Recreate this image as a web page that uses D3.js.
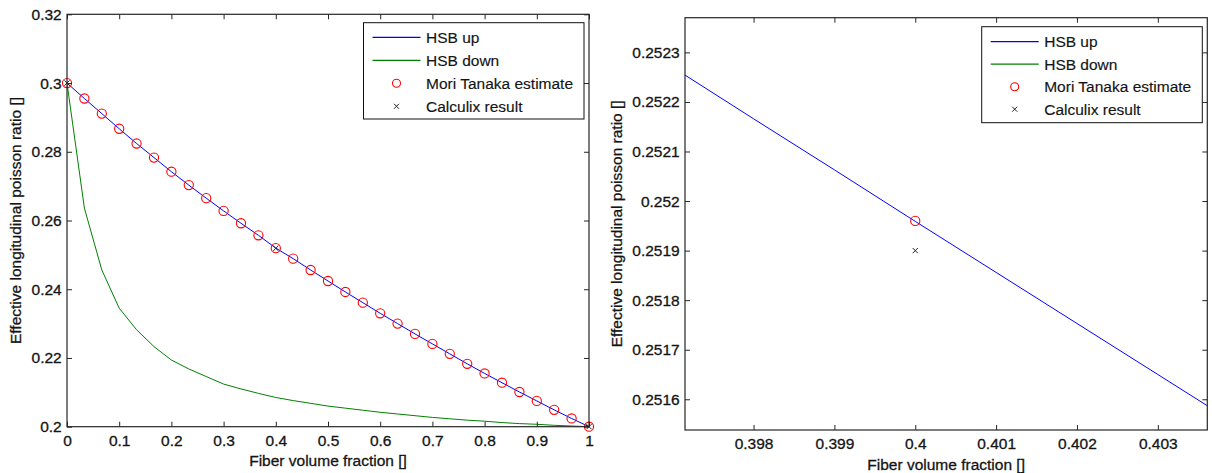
<!DOCTYPE html>
<html>
<head>
<meta charset="utf-8">
<script src="https://cdn.jsdelivr.net/npm/d3@7"></script>
<style>
  body { margin: 0; background: #fff; }
  text { font-family: "Liberation Sans", Arial, sans-serif; fill: #141414; stroke: #141414; stroke-width: 0.3px; }
</style>
</head>
<body>
<svg id="fig" width="1212" height="473"></svg>
<script>
// Fibre volume fraction samples
const volumeFraction = [0, 0.0333, 0.0667, 0.1, 0.1333, 0.1667, 0.2, 0.2333, 0.2667, 0.3,
  0.3333, 0.3667, 0.4, 0.4333, 0.4667, 0.5, 0.5333, 0.5667, 0.6, 0.6333, 0.6667,
  0.7, 0.7333, 0.7667, 0.8, 0.8333, 0.8667, 0.9, 0.9333, 0.9667, 1];

// Hashin-Shtrikman bounds on the longitudinal Poisson ratio
const hsbUp = [0.3000, 0.2955, 0.2911, 0.2867, 0.2824, 0.2783, 0.2742, 0.2703, 0.2665, 0.2628,
  0.2592, 0.2557, 0.25196, 0.2489, 0.2456, 0.2424, 0.2392, 0.2361, 0.2330, 0.2300, 0.2270,
  0.2241, 0.2212, 0.2183, 0.2155, 0.2128, 0.2101, 0.2075, 0.2049, 0.2024, 0.2000];
const hsbDown = [0.3000, 0.2636, 0.2456, 0.2345, 0.2282, 0.2233, 0.2194, 0.2168, 0.2146, 0.2124,
  0.2110, 0.2097, 0.2085, 0.2076, 0.2068, 0.2060, 0.2054, 0.2048, 0.2042, 0.2037, 0.2032,
  0.2027, 0.2023, 0.2019, 0.2016, 0.2012, 0.2009, 0.2007, 0.2004, 0.2002, 0.2000];

// Mori-Tanaka estimate at the same fractions
const moriTanaka = [0.3000, 0.2955, 0.2911, 0.2867, 0.2824, 0.2783, 0.2742, 0.2703, 0.2665, 0.2628,
  0.2592, 0.2557, 0.25196, 0.2489, 0.2456, 0.2424, 0.2392, 0.2361, 0.2330, 0.2300, 0.2270,
  0.2241, 0.2212, 0.2183, 0.2155, 0.2128, 0.2101, 0.2075, 0.2049, 0.2024, 0.2000];

// Finite element (Calculix) results
const calculixFraction = [0, 0.4, 1];
const calculixValue = [0.3000, 0.2519, 0.2000];

// Upper bound, finely sampled around 0.4
const zoomFraction = [0.397, 0.398, 0.399, 0.400, 0.401, 0.402, 0.403, 0.404];
const zoomHsbUp = [0.252270, 0.252166, 0.252063, 0.251959, 0.251856, 0.251753, 0.251650, 0.251547];
const zoomHsbDown = [0.20835, 0.20834, 0.20833, 0.20832, 0.20831, 0.20830, 0.20829, 0.20828];

// Tick values and labels
const leftXTicks = [0, 0.1, 0.2, 0.3, 0.4, 0.5, 0.6, 0.7, 0.8, 0.9, 1];
const leftXLabels = ["0", "0.1", "0.2", "0.3", "0.4", "0.5", "0.6", "0.7", "0.8", "0.9", "1"];
const leftYTicks = [0.2, 0.22, 0.24, 0.26, 0.28, 0.3, 0.32];
const leftYLabels = ["0.2", "0.22", "0.24", "0.26", "0.28", "0.3", "0.32"];
const rightXTicks = [0.398, 0.399, 0.4, 0.401, 0.402, 0.403];
const rightXLabels = ["0.398", "0.399", "0.4", "0.401", "0.402", "0.403"];
const rightYTicks = [0.2516, 0.2517, 0.2518, 0.2519, 0.2520, 0.2521, 0.2522, 0.2523];
const rightYLabels = ["0.2516", "0.2517", "0.2518", "0.2519", "0.252", "0.2521", "0.2522", "0.2523"];

const legendLabels = ["HSB up", "HSB down", "Mori Tanaka estimate", "Calculix result"];

const BLUE = "#0000ff", GREEN = "#008000", RED = "#ff0000", FRAME = "#262626";
const FONT = 15.5;

const svg = d3.select("#fig");

function panel(cfg) {
  const x = d3.scaleLinear().domain(cfg.xDomain).range([cfg.left, cfg.right]);
  const y = d3.scaleLinear().domain(cfg.yDomain).range([cfg.bottom, cfg.top]);
  const g = svg.append("g");

  const clipId = "clip-" + cfg.id;
  g.append("clipPath").attr("id", clipId).append("rect")
    .attr("x", cfg.left).attr("y", cfg.top)
    .attr("width", cfg.right - cfg.left).attr("height", cfg.bottom - cfg.top);

  const plot = g.append("g").attr("clip-path", `url(#${clipId})`);
  const line = d3.line().x(d => x(d[0])).y(d => y(d[1]));

  plot.append("path").datum(d3.zip(cfg.fx, cfg.down))
    .attr("d", line).attr("fill", "none").attr("stroke", GREEN).attr("stroke-width", 1);
  plot.append("path").datum(d3.zip(cfg.fx, cfg.up))
    .attr("d", line).attr("fill", "none").attr("stroke", BLUE).attr("stroke-width", 1);

  // markers may overhang the frame slightly
  const marks = g.append("g");
  marks.selectAll("circle.mt").data(d3.zip(volumeFraction, moriTanaka)
      .filter(d => d[0] >= cfg.xDomain[0] && d[0] <= cfg.xDomain[1]))
    .join("circle").attr("class", "mt")
    .attr("cx", d => x(d[0])).attr("cy", d => y(d[1])).attr("r", 4.6)
    .attr("fill", "none").attr("stroke", RED).attr("stroke-width", 1.1);
  const cs = 2.6;
  marks.selectAll("path.cx").data(d3.zip(calculixFraction, calculixValue)
      .filter(d => d[0] >= cfg.xDomain[0] && d[0] <= cfg.xDomain[1]))
    .join("path").attr("class", "cx")
    .attr("d", d => {
      const px = x(d[0]), py = y(d[1]);
      return `M${px - cs},${py - cs}L${px + cs},${py + cs}M${px - cs},${py + cs}L${px + cs},${py - cs}`;
    })
    .attr("stroke", "#222").attr("stroke-width", 1).attr("fill", "none");

  // axes with inward ticks on all four sides
  const styleAxis = sel => {
    sel.select(".domain").remove();
    sel.selectAll(".tick line").attr("stroke", FRAME).attr("stroke-width", 1);
    sel.selectAll(".tick text").style("font-size", FONT + "px").attr("fill", null);
  };
  g.append("g").attr("transform", `translate(0,${cfg.bottom})`)
    .call(d3.axisBottom(x).tickValues(cfg.xTicks).tickFormat((d, i) => cfg.xLabels[i])
      .tickSizeInner(-5).tickSizeOuter(0).tickPadding(8.3))
    .call(styleAxis);
  g.append("g").attr("transform", `translate(0,${cfg.top})`)
    .call(d3.axisTop(x).tickValues(cfg.xTicks).tickFormat("").tickSizeInner(-5).tickSizeOuter(0))
    .call(styleAxis);
  g.append("g").attr("transform", `translate(${cfg.left},0)`)
    .call(d3.axisLeft(y).tickValues(cfg.yTicks).tickFormat((d, i) => cfg.yLabels[i])
      .tickSizeInner(-5).tickSizeOuter(0).tickPadding(5.3))
    .call(styleAxis);
  g.append("g").attr("transform", `translate(${cfg.right},0)`)
    .call(d3.axisRight(y).tickValues(cfg.yTicks).tickFormat("").tickSizeInner(-5).tickSizeOuter(0))
    .call(styleAxis);
  g.selectAll("g[font-family]").attr("font-family", null).attr("font-size", null);

  g.append("rect")
    .attr("x", cfg.left).attr("y", cfg.top)
    .attr("width", cfg.right - cfg.left).attr("height", cfg.bottom - cfg.top)
    .attr("fill", "none").attr("stroke", FRAME).attr("stroke-width", 1.2);

  // axis titles
  g.append("text")
    .attr("x", (cfg.left + cfg.right) / 2).attr("y", cfg.bottom + 39.5)
    .attr("text-anchor", "middle").style("font-size", FONT + "px")
    .text("Fiber volume fraction []");
  g.append("text")
    .attr("transform", `translate(${cfg.yTitleX},${(cfg.top + cfg.bottom) / 2}) rotate(-90)`)
    .attr("text-anchor", "middle").style("font-size", FONT + "px")
    .text("Effective longitudinal poisson ratio []");

  // legend
  const L = cfg.legend;
  const lg = g.append("g");
  lg.append("rect").attr("x", L.x).attr("y", L.y).attr("width", L.w).attr("height", L.h)
    .attr("fill", "#fff").attr("stroke", "#111").attr("stroke-width", 1);
  legendLabels.forEach((lab, i) => {
    const ry = L.y + L.row0 + i * L.step;
    const sx0 = L.x + 9, sx1 = L.x + 57, mx = (sx0 + sx1) / 2;
    if (i === 0 || i === 1) {
      lg.append("line").attr("x1", sx0).attr("x2", sx1).attr("y1", ry).attr("y2", ry)
        .attr("stroke", i === 0 ? BLUE : GREEN).attr("stroke-width", 1.3);
    } else if (i === 2) {
      lg.append("circle").attr("cx", mx).attr("cy", ry).attr("r", 4)
        .attr("fill", "none").attr("stroke", RED).attr("stroke-width", 1.1);
    } else {
      lg.append("path")
        .attr("d", `M${mx - 2.5},${ry - 2.5}L${mx + 2.5},${ry + 2.5}M${mx - 2.5},${ry + 2.5}L${mx + 2.5},${ry - 2.5}`)
        .attr("stroke", "#222").attr("stroke-width", 1);
    }
    lg.append("text").attr("x", L.x + 62.5).attr("y", ry).attr("dy", "0.36em")
      .style("font-size", FONT + "px").style("stroke-width", "0.15px").text(lab);
  });
}

panel({
  id: "full",
  left: 67, right: 589, top: 14.3, bottom: 426.7,
  xDomain: [0, 1], yDomain: [0.2, 0.32],
  fx: volumeFraction, up: hsbUp, down: hsbDown,
  xTicks: leftXTicks, xLabels: leftXLabels, yTicks: leftYTicks, yLabels: leftYLabels,
  yTitleX: 21,
  legend: { x: 363.5, y: 22.7, w: 220.5, h: 96.3, row0: 14.6, step: 23 }
});

panel({
  id: "zoom",
  left: 685, right: 1207.3, top: 17.7, bottom: 430,
  xDomain: [0.397152, 0.403612], yDomain: [0.251538, 0.25237],
  fx: zoomFraction, up: zoomHsbUp, down: zoomHsbDown,
  xTicks: rightXTicks, xLabels: rightXLabels, yTicks: rightYTicks, yLabels: rightYLabels,
  yTitleX: 622,
  legend: { x: 981.7, y: 26.7, w: 220.6, h: 96, row0: 15, step: 22.5 }
});
</script>
</body>
</html>
